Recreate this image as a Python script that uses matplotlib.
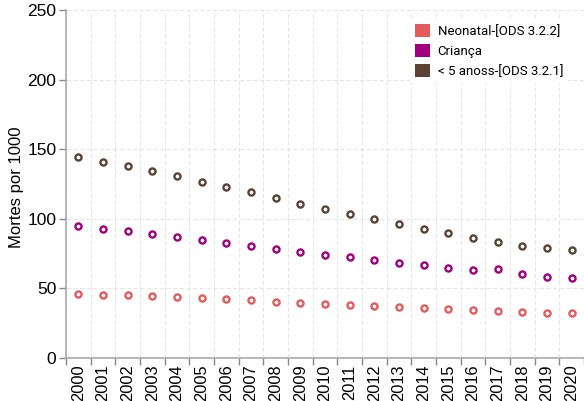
import numpy as np
import matplotlib
matplotlib.use("Agg")
import matplotlib.pyplot as plt
from matplotlib.patches import Patch

plt.rcParams["font.family"] = ["Liberation Sans", "DejaVu Sans"]

years = [str(y) for y in range(2000, 2021)]

neonatal = [46.1, 45.3, 44.9, 44.4, 43.7, 42.7, 42.0, 41.3, 40.3, 39.6, 38.9,
            38.1, 37.2, 36.5, 35.8, 35.3, 34.5, 33.6, 32.9, 32.4, 32.5]
crianca = [94.8, 92.8, 91.0, 89.0, 87.1, 84.9, 82.8, 80.6, 78.4, 76.1, 74.1,
           72.2, 70.3, 68.4, 66.5, 64.8, 63.3, 63.6, 60.0, 58.1, 57.4]
under5 = [144.2, 141.0, 137.7, 134.1, 130.5, 126.6, 122.8, 119.0, 114.9, 110.8, 106.8,
          103.2, 99.6, 96.2, 92.6, 89.5, 86.3, 83.0, 80.4, 78.7, 77.5]

series_names = ["Neonatal-[ODS 3.2.2]", "Criança", "< 5 anoss-[ODS 3.2.1]"]
colors = ["#E35B5B", "#A0007F", "#5B4334"]

fig = plt.figure(figsize=(5.84, 4.01), dpi=100)
ax = fig.add_axes([66 / 584, (401 - 357.7) / 401, (584 - 66) / 584, 347.4 / 401])

x = np.arange(len(years))
for vals, c in zip([neonatal, crianca, under5], colors):
    ax.plot(x, vals, linestyle="none", marker="o", markersize=4.4,
            markerfacecolor="white", markeredgecolor=c, markeredgewidth=1.7,
            zorder=3, clip_on=False)

ax.set_xlim(-0.5, len(years) - 0.5)
ax.set_ylim(0, 250)

ax.set_yticks([0, 50, 100, 150, 200, 250])
ax.set_xticks(x)
ax.set_xticklabels(years, rotation=90, fontsize=11.8)
ax.set_xticks(np.arange(len(years) + 1) - 0.5, minor=True)
for lab in ax.get_yticklabels():
    lab.set_fontsize(12.5)

ax.tick_params(axis="x", which="major", length=0, pad=5)
ax.tick_params(axis="x", which="minor", length=5, color="#888888", width=1)
ax.tick_params(axis="y", length=5, color="#888888", width=1, pad=2)

ax.grid(True, axis="y", which="major", color="#e6e6e6", linestyle=(0, (4, 2)), linewidth=0.8)
ax.grid(True, axis="x", which="minor", color="#e6e6e6", linestyle=(0, (4, 2)), linewidth=0.8)
ax.set_axisbelow(True)

for side in ["top", "right"]:
    ax.spines[side].set_visible(False)
for side in ["left", "bottom"]:
    ax.spines[side].set_color("#aaaaaa")
    ax.spines[side].set_linewidth(1.2)

ax.set_ylabel("Mortes por 1000", fontsize=12)
ax.yaxis.set_label_coords(-0.081, 0.49)

handles = [Patch(facecolor=c, edgecolor="none") for c in colors]
leg = ax.legend(handles, series_names, loc="upper left",
                bbox_to_anchor=(410 / 584, 1 - 19 / 401), bbox_transform=fig.transFigure,
                frameon=True, fancybox=False, edgecolor="none", facecolor="white", framealpha=1,
                handlelength=1.15, handleheight=1.15, handletextpad=0.55, labelspacing=0.45,
                borderaxespad=0, prop={"family": "Roboto", "size": 9.5})

fig.savefig("out.png", dpi=100)
